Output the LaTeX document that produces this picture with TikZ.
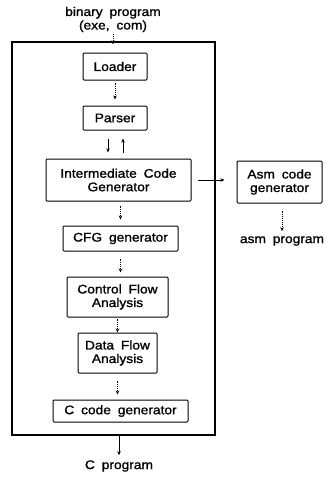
\documentclass[tikz,border=0pt]{standalone}
\usepackage{fontspec}
\setmainfont{Liberation Sans}[FakeStretch=1.1,WordSpace=1.8,FakeBold=1.2]
\usetikzlibrary{arrows.meta}
\begin{document}
\begin{tikzpicture}[x=1pt,y=-1pt,
  font=\fontsize{12.5}{13.5}\selectfont,
  stage/.style={draw,line width=1pt,rounded corners=1pt,align=center,inner sep=0pt},
  frame/.style={draw,line width=1.2pt,inner sep=0pt},
  label/.style={align=center,inner sep=0pt},
  flow/.style={densely dotted,line width=0.9pt,-{Stealth[length=4pt,width=3.5pt]}},
  link/.style={line width=0.9pt,-{Stealth[length=4pt,width=3.5pt]}}]
\useasboundingbox (0,0) rectangle (325,479);

% outer compiler box
\node[frame,minimum width=203,minimum height=393] (frame) at (113.5,238.5) {};

% pipeline stages
\node[stage,minimum width=64,minimum height=27] (loader) at (115,66.5) {Loader};
\node[stage,minimum width=64,minimum height=24] (parser) at (115,118) {Parser};
\node[stage,minimum width=145,minimum height=42] (icg) at (118.5,180) {Intermediate Code\\Generator};
\node[stage,minimum width=115,minimum height=25] (cfg) at (120.5,238.5) {CFG generator};
\node[stage,minimum width=101,minimum height=40] (cfa) at (117.5,297) {Control Flow\\Analysis};
\node[stage,minimum width=79,minimum height=40] (dfa) at (117.5,353) {Data Flow\\Analysis};
\node[stage,minimum width=135,minimum height=22] (ccg) at (120.5,411) {C code generator};
\node[stage,minimum width=85,minimum height=42] (asm) at (279.5,182) {Asm code\\generator};

% inputs and outputs
\node[label] (bin) at (113,19.5) {binary program\\(exe, com)};
\node[label] (cprog) at (119,466) {C program};
\node[label] (asmprog) at (282,241) {asm program};

% connectors
\draw[flow,shorten <=2pt,shorten >=-3pt] (bin.south) -- (bin.south |- frame.north);
\draw[flow,shorten <=2pt,shorten >=6pt] (loader) -- (parser);
\draw[link,shorten <=8pt,shorten >=6pt] ([xshift=-7pt]parser.south) -- ([xshift=-10.5pt]icg.north);
\draw[link,shorten <=6pt,shorten >=8pt] ([xshift=4.5pt]icg.north) -- ([xshift=8pt]parser.south);
\draw[flow,shorten <=4pt,shorten >=6pt] (icg.south -| cfg) -- (cfg);
\draw[flow,shorten <=7pt,shorten >=4pt] (cfg) -- (cfa.north -| cfg);
\draw[flow,shorten <=1pt,shorten >=0pt] (cfa) -- (dfa);
\draw[flow,shorten <=7pt,shorten >=5pt] (dfa) -- (ccg.north -| dfa);
\draw[link,shorten <=6pt,shorten >=12pt] (icg) -- (asm.west |- icg);
\draw[flow,shorten <=7pt,shorten >=5pt] (asm.south -| asmprog) -- (asmprog);
\draw[link,shorten <=0pt,shorten >=5pt] (frame.south -| cprog) -- (cprog);
\end{tikzpicture}
\end{document}
